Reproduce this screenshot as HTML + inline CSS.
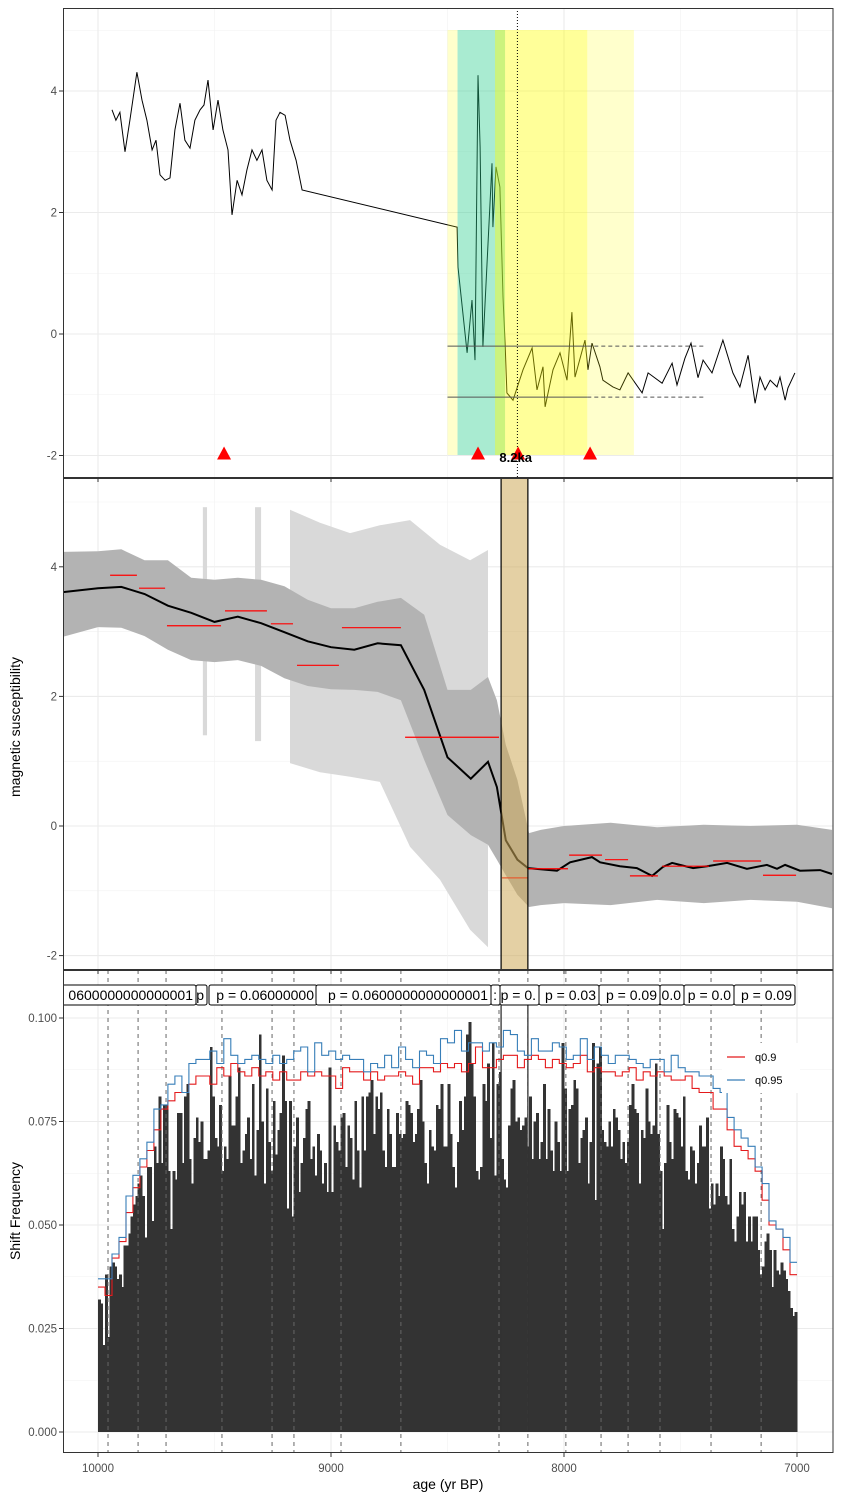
<!DOCTYPE html>
<html><head><meta charset="utf-8"><style>
html,body{margin:0;padding:0;background:#fff}
svg{display:block;font-family:"Liberation Sans",Arial,sans-serif}
</style></head><body>
<svg id="chart" width="841" height="1499" viewBox="0 0 841 1499">
<defs>
<clipPath id="c1"><rect x="63" y="8" width="770" height="470"/></clipPath>
<clipPath id="c2"><rect x="63" y="478" width="770" height="492"/></clipPath>
<clipPath id="c3"><rect x="63" y="970" width="770" height="483"/></clipPath>
</defs>
<g id="g1"></g>
<g id="g2"></g>
<g id="g3"></g>
<g id="gax"></g>
</svg>
<script>
// ---------- Panel 1 data ----------
const p1Ages=[9940,9923,9906,9884,9863,9833,9811,9790,9768,9751,9734,9712,9691,9670,9648,9627,9605,9584,9562,9545,9528,9506,9485,9464,9442,9425,9403,9382,9361,9339,9318,9296,9275,9253,9236,9219,9197,9176,9150,9124,8459,8455,8416,8395,8382,8369,8360,8348,8309,8305,8292,8275,8262,8253,8245,8219,8176,8137,8116,8090,8081,8047,8017,7987,7966,7953,7910,7897,7880,7846,7833,7790,7760,7725,7665,7639,7579,7536,7515,7481,7455,7425,7403,7365,7318,7275,7245,7210,7180,7159,7137,7115,7086,7073,7051,7039,7009];
const p1Vals=[3.69,3.52,3.65,3.0,3.52,4.31,3.85,3.52,3.03,3.19,2.62,2.53,2.57,3.36,3.80,3.19,3.06,3.52,3.69,3.77,4.18,3.36,3.85,3.36,3.03,1.96,2.53,2.29,2.70,3.03,2.86,3.03,2.53,2.37,3.52,3.65,3.60,3.19,2.86,2.37,1.76,1.10,-0.31,0.56,-0.43,4.26,3.08,-0.21,2.81,1.76,2.75,2.42,0.61,-0.15,-0.97,-1.09,-0.59,-0.23,-0.92,-0.54,-1.20,-0.59,-0.31,-0.76,0.36,-0.71,-0.10,-0.59,-0.15,-0.54,-0.76,-0.87,-0.92,-0.64,-0.97,-0.64,-0.81,-0.48,-0.84,-0.40,-0.15,-0.72,-0.43,-0.64,-0.10,-0.64,-0.87,-0.35,-1.14,-0.71,-0.92,-0.76,-0.87,-0.71,-1.09,-0.89,-0.64];
const p1Triangles=[9459,8369,8197,7888];
const p1RefVals=[-0.2,-1.04];
// ---------- Panel 2 data ----------
const meanAges=[10150,10000,9900,9800,9700,9600,9500,9400,9300,9200,9100,9000,8900,8800,8700,8600,8500,8400,8326,8288,8250,8200,8154,8030,7974,7880,7845,7760,7687,7622,7575,7536,7446,7386,7300,7215,7129,7086,7051,6987,6901,6850];
const meanVals=[3.61,3.67,3.69,3.58,3.40,3.29,3.15,3.23,3.13,2.99,2.85,2.76,2.72,2.82,2.79,2.10,1.06,0.73,0.99,0.60,-0.22,-0.52,-0.65,-0.69,-0.56,-0.48,-0.56,-0.62,-0.65,-0.77,-0.63,-0.57,-0.65,-0.62,-0.57,-0.66,-0.60,-0.66,-0.60,-0.69,-0.68,-0.74];
const bandAges=[10150,10000,9900,9800,9700,9600,9500,9400,9300,9200,9100,9000,8900,8800,8700,8600,8500,8400,8326,8288,8250,8200,8150,8100,8000,7800,7600,7400,7200,7000,6850];
const bandUpper=[4.23,4.24,4.27,4.10,4.10,3.83,3.80,3.83,3.80,3.70,3.49,3.36,3.36,3.46,3.52,3.26,2.10,2.10,2.30,1.94,1.25,0.71,-0.11,-0.06,0,0.05,-0.02,0.02,0,0.02,-0.06];
const bandLower=[2.92,3.07,3.06,2.93,2.72,2.56,2.53,2.56,2.47,2.28,2.16,2.11,2.10,2.07,1.94,1.02,0.17,-0.14,-0.29,-0.52,-0.76,-1.06,-1.25,-1.22,-1.19,-1.22,-1.14,-1.19,-1.14,-1.17,-1.27];
const wideAges=[9176,9047,8918,8790,8661,8532,8403,8326];
const wideUpper=[4.88,4.68,4.52,4.64,4.72,4.34,4.10,4.26];
const wideLower=[0.97,0.83,0.76,0.68,-0.32,-0.83,-1.60,-1.87];
const stripStart=[9550,9326];
const stripEnd=[9532,9300];
const stripTop=[4.92,4.92];
const stripBottom=[1.40,1.31];
const segStart=[9948,9824,9704,9455,9258,9146,8953,8682,8266,8154,7978,7824,7717,7579,7360,7146];
const segEnd=[9833,9712,9472,9275,9163,8966,8700,8279,8154,7983,7837,7725,7597,7378,7154,7004];
const segVal=[3.87,3.67,3.09,3.32,3.12,2.48,3.06,1.37,-0.80,-0.66,-0.45,-0.52,-0.77,-0.62,-0.54,-0.76];
const eventStart=8270, eventEnd=8155;
// ---------- Panel 3 data ----------
const barStart=10000, barWidthYr=10;
const barVals=[32,31,21,38,23,40,41,40,37,38,35,45,45,48,52,
55,57,60,62,57,47,64,64,51,69,65,81,65,79,79,63,49,63,61,77,77,65,81,84,66,60,71,76,70,75,66,66,68,93,81,71,69,79,63,69,66,86,74,74,81,88,65,68,72,76,66,84,62,73,96,75,60,83,70,63,80,67,73,77,91,80,54,80,52,69,76,58,65,71,78,80,66,69,62,72,68,60,65,58,88,58,74,70,68,76,77,64,74,71,61,80,68,59,81,68,81,82,85,72,81,78,82,68,64,78,72,64,64,77,72,71,72,80,79,77,70,72,78,85,75,65,60,73,69,68,79,78,84,69,69,
84,72,64,59,70,80,73,81,96,99,89,81,63,61,64,84,80,89,71,94,62,84,87,66,61,59,74,83,85,75,76,73,74,76,69,81,66,75,77,66,70,84,66,78,68,63,75,70,63,94,83,63,78,79,85,83,65,71,73,76,60,70,94,56,89,93,73,70,69,75,69,78,76,73,66,70,65,70,79,84,78,77,60,73,71,83,75,72,74,89,72,63,49,65,79,70,66,78,77,76,69,81,63,61,69,68,60,65,74,69,69,76,54,60,55,60,57,69,66,57,55,66,49,46,52,58,55,58,46,52,46,52,52,44,38,40,46,48,44,35,44,39,38,41,39,37,34,30,28,29];
const qStepYr=30;
const q90=[35,33,42,46,53,59,64,68,73,78,80,82,82,84,86,86,84,88,86,89,87,86,88,86,87,85,87,85,85,87,86,87,86,86,83,88,87,87,85,87,85,86,86,87,86,84,88,88,87,89,
88,89,87,89,93,88,88,90,91,91,88,90,91,90,88,90,89,88,89,91,87,88,87,87,86,87,88,85,87,86,87,86,85,85,86,83,82,82,78,78,73,69,68,66,63,56,50,49,44,38];
const q95=[37,37,43,47,57,62,66,70,78,79,84,86,82,89,90,90,92,89,95,91,89,90,91,90,89,91,89,90,92,93,87,94,91,92,90,91,90,90,87,89,88,91,88,93,90,88,92,91,89,95,
94,97,92,94,94,92,94,93,97,96,92,91,95,92,92,94,93,90,91,95,90,93,91,89,91,91,90,89,88,90,90,87,91,88,87,87,86,86,83,82,76,73,71,69,64,60,51,49,47,41];
const shiftAges=[9957,9828,9708,9468,9253,9159,8957,8700,8279,8155,7992,7841,7725,7588,7369,7154];
const labelLeft=[40,196,209,316,491,500,539,599,660,684,734];
const labelRight=[196,207,317,491,500,539,599,660,684,734,795];
const labelText=["0600000000000001","p","p = 0.06000000","p = 0.0600000000000001",":","p = 0.","p = 0.03","p = 0.09","0.0","p = 0.0","p = 0.09"];
const xTicks=[10000,9000,8000,7000];
const xMinor=[9500,8500,7500];
const y1Ticks=[-2,0,2,4], y1Minor=[-1,1,3,5];
const y2Ticks=[-2,0,2,4], y2Minor=[-1,1,3,5];
const y3Ticks=[0,0.025,0.05,0.075,0.1], y3Labels=["0.000","0.025","0.050","0.075","0.100"];

// ---------- scales ----------
const X=a=>98+(10000-a)*0.233;
const Y1=v=>334-v*60.75;
const Y2=v=>826-v*64.8;
const Y3=v=>1432-v*4140;
const NS="http://www.w3.org/2000/svg";
function mk(parent,tag,attrs){const e=document.createElementNS(NS,tag);for(const k in attrs)e.setAttribute(k,attrs[k]);parent.appendChild(e);return e;}
const g1=document.getElementById('g1'),g2=document.getElementById('g2'),g3=document.getElementById('g3'),gax=document.getElementById('gax');

function grid(g,top,bot,Y,maj,min){
  min.forEach(v=>{const l=mk(g,'line',{x1:63,x2:833,y1:Y(v),y2:Y(v),stroke:'#F2F2F2','stroke-width':0.6});

});
  maj.forEach(v=>{const l=mk(g,'line',{x1:63,x2:833,y1:Y(v),y2:Y(v),stroke:'#EBEBEB','stroke-width':1.1});

});
  xMinor.forEach(a=>{const l=mk(g,'line',{x1:X(a),x2:X(a),y1:top,y2:bot,stroke:'#F2F2F2','stroke-width':0.6});

});
  xTicks.forEach(a=>{const l=mk(g,'line',{x1:X(a),x2:X(a),y1:top,y2:bot,stroke:'#EBEBEB','stroke-width':1.1});

});
}
function yLabels(Y,ticks,labels){
  ticks.forEach((v,i)=>{
    const t=mk(gax,'text',{x:57,y:Y(v)+4,'text-anchor':'end','font-size':11.5,fill:'#4D4D4D'});
    t.textContent=labels?labels[i]:String(v);
    
    
    const k=mk(gax,'line',{x1:59,x2:63,y1:Y(v),y2:Y(v),stroke:'#333','stroke-width':1});
    
    
  });
}

// ---------- Panel 1 ----------
grid(g1,8,478,Y1,y1Ticks,y1Minor);
const c1=mk(g1,'g',{'clip-path':'url(#c1)'});
let d='';p1Ages.forEach((a,i)=>{d+=(i?'L':'M')+X(a).toFixed(1)+','+Y1(p1Vals[i]).toFixed(1);});
const ln1=mk(c1,'path',{d:d,fill:'none',stroke:'#000','stroke-width':1});


const hl1=mk(c1,'rect',{x:X(8500),y:30,width:X(8457)-X(8500),height:425,fill:'rgb(255,255,0)','fill-opacity':0.2});


const hl1b=mk(c1,'rect',{x:X(7900),y:30,width:X(7700)-X(7900),height:425,fill:'rgb(255,255,0)','fill-opacity':0.2});


const hl2=mk(c1,'rect',{x:X(8457),y:30,width:X(8253)-X(8457),height:425,fill:'rgb(40,205,140)','fill-opacity':0.4});


const hl3=mk(c1,'rect',{x:X(8296),y:30,width:X(7900)-X(8296),height:425,fill:'rgb(255,255,0)','fill-opacity':0.4});


p1RefVals.forEach(v=>{
  const s=mk(c1,'line',{x1:X(8500),x2:X(7900),y1:Y1(v),y2:Y1(v),stroke:'#555','stroke-width':1});
  
  
  const s2=mk(c1,'line',{x1:X(7900),x2:X(7395),y1:Y1(v),y2:Y1(v),stroke:'#555','stroke-width':1,'stroke-dasharray':'4,3'});
  
  
});
const dl=mk(c1,'line',{x1:X(8200),x2:X(8200),y1:8,y2:478,stroke:'#000','stroke-width':1,'stroke-dasharray':'1,2'});


p1Triangles.forEach(a=>{const x=X(a),y=Y1(-2);
  const t=mk(c1,'path',{d:`M${x-7},${y+4}L${x+7},${y+4}L${x},${y-9}Z`,fill:'#FF0000'});
  
  });
const lab=mk(g1,'text',{x:X(8200)-18,y:462,'font-size':13,'font-weight':'bold',fill:'#000'});
lab.textContent='8.2ka';


yLabels(Y1,y1Ticks);

// ---------- Panel 2 ----------
grid(g2,478,970,Y2,y2Ticks,y2Minor);
const c2=mk(g2,'g',{'clip-path':'url(#c2)'});
function poly(ages,up,lo,Y){let p=[];ages.forEach((a,i)=>p.push(X(a).toFixed(1)+','+Y(up[i]).toFixed(1)));for(let i=ages.length-1;i>=0;i--)p.push(X(ages[i]).toFixed(1)+','+Y(lo[i]).toFixed(1));return p.join(' ');}
stripStart.forEach((a,i)=>{const r=mk(c2,'rect',{x:X(a),y:Y2(stripTop[i]),width:X(stripEnd[i])-X(a),height:Y2(stripBottom[i])-Y2(stripTop[i]),fill:'#D9D9D9'});

});
const wp=mk(c2,'polygon',{points:poly(wideAges,wideUpper,wideLower,Y2),fill:'#D9D9D9'});


const bp=mk(c2,'polygon',{points:poly(bandAges,bandUpper,bandLower,Y2),fill:'#B3B3B3'});


d='';meanAges.forEach((a,i)=>{d+=(i?'L':'M')+X(a).toFixed(1)+','+Y2(meanVals[i]).toFixed(1);});
const ml=mk(c2,'path',{d:d,fill:'none',stroke:'#000','stroke-width':2});


segStart.forEach((a,i)=>{const s=mk(c2,'line',{x1:X(a),x2:X(segEnd[i]),y1:Y2(segVal[i]),y2:Y2(segVal[i]),stroke:'#FF0000','stroke-width':1.2});

});
const ev=mk(c2,'rect',{x:X(eventStart),y:478,width:X(eventEnd)-X(eventStart),height:492,fill:'rgb(205,170,90)','fill-opacity':0.55,stroke:'#000','stroke-width':1.2});


yLabels(Y2,y2Ticks);

// ---------- Panel 3 ----------
grid(g3,970,1453,Y3,y3Ticks,[0.0125,0.0375,0.0625,0.0875]);
const c3=mk(g3,'g',{'clip-path':'url(#c3)'});
barVals.forEach((v,i)=>{const a=barStart-i*barWidthYr;
  const r=mk(c3,'rect',{x:X(a).toFixed(2),y:Y3(v/1000).toFixed(1),width:2.8,height:(Y3(0)-Y3(v/1000)).toFixed(1),fill:'#333333','shape-rendering':'crispEdges'});
  
  });
shiftAges.forEach(a=>{const l=mk(c3,'line',{x1:X(a),x2:X(a),y1:970,y2:1453,stroke:'#666','stroke-width':1,'stroke-dasharray':'4,4'});

});
[eventStart,eventEnd].forEach(a=>{const l=mk(c3,'line',{x1:X(a),x2:X(a),y1:1005,y2:1432,stroke:'#333','stroke-width':1.3});

});
function step(q,color,name){let d='';q.forEach((v,k)=>{const x0=X(10000-k*qStepYr),x1=X(10000-(k+1)*qStepYr),y=Y3(v/1000);d+=(k?'L':'M')+x0.toFixed(1)+','+y.toFixed(1)+'L'+x1.toFixed(1)+','+y.toFixed(1);});
  const p=mk(c3,'path',{d:d,fill:'none',stroke:color,'stroke-width':1.1});
  
  }
step(q90,'#E41A1C','q90-threshold-line');
step(q95,'#377EB8','q95-threshold-line');
labelText.forEach((t,i)=>{const gg=mk(c3,'g',{});
  
  
  mk(gg,'rect',{x:labelLeft[i],y:985,width:labelRight[i]-labelLeft[i],height:20,rx:2,fill:'#fff',stroke:'#000','stroke-width':1});
  const tx=mk(gg,'text',{x:labelRight[i]-3,y:1000,'text-anchor':'end','font-size':14,fill:'#000'});tx.textContent=t;});
// legend
const lg=mk(g3,'g',{});


mk(lg,'rect',{x:722,y:1043,width:78,height:50,fill:'#fff'});
const le1=mk(lg,'line',{x1:727,x2:745,y1:1057,y2:1057,stroke:'#E41A1C','stroke-width':1.2});


const lt1=mk(lg,'text',{x:755,y:1061,'font-size':11,fill:'#000'});lt1.textContent='q0.9';


const le2=mk(lg,'line',{x1:727,x2:745,y1:1080,y2:1080,stroke:'#377EB8','stroke-width':1.2});


const lt2=mk(lg,'text',{x:755,y:1084,'font-size':11,fill:'#000'});lt2.textContent='q0.95';


yLabels(Y3,y3Ticks,y3Labels);

// ---------- frames, x axis, titles ----------
[[8,470],[478,492],[970,483]].forEach(r=>{const f=mk(gax,'rect',{x:63.5,y:r[0]+0.5,width:769.5,height:r[1]-1,fill:'none',stroke:'#333','stroke-width':1});

});
xTicks.forEach(a=>{
  [478,970,1453].forEach(yb=>{const k=mk(gax,'line',{x1:X(a),x2:X(a),y1:yb,y2:yb+4,stroke:'#333','stroke-width':1});
  
  });
  const t=mk(gax,'text',{x:X(a),y:1472,'text-anchor':'middle','font-size':11.5,fill:'#4D4D4D'});t.textContent=String(a);
  
  
});
const xt=mk(gax,'text',{x:448,y:1489,'text-anchor':'middle','font-size':14,fill:'#000'});xt.textContent='age (yr BP)';


const yt2=mk(gax,'text',{x:20,y:727,'text-anchor':'middle','font-size':14,fill:'#000',transform:'rotate(-90 20 727)'});yt2.textContent='magnetic susceptibility';


const yt3=mk(gax,'text',{x:20,y:1211,'text-anchor':'middle','font-size':14,fill:'#000',transform:'rotate(-90 20 1211)'});yt3.textContent='Shift Frequency';


</script>
</body></html>
